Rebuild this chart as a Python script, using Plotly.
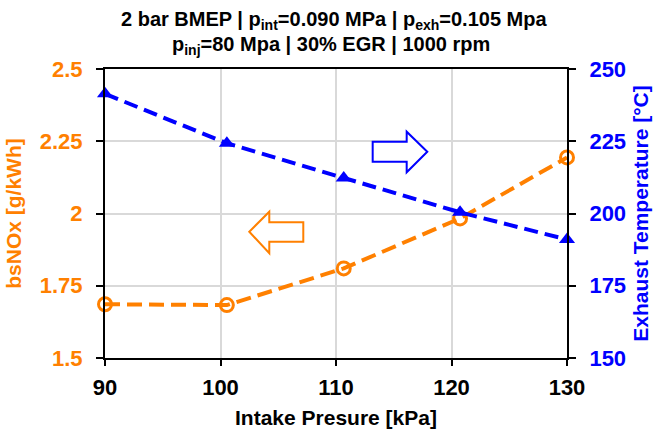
import plotly.graph_objects as go

intake_kpa = [90, 100.55, 110.67, 120.74, 130]
bsnox = [1.686, 1.683, 1.810, 1.983, 2.194]
exh_temp = [241.4, 224.3, 212.3, 200.4, 191.0]

x_ticks = [90, 100, 110, 120, 130]
y_ticks = [1.5, 1.75, 2, 2.25, 2.5]
y_tick_text = ["1.5", "1.75", "2", "2.25", "2.5"]
y2_ticks = [150, 175, 200, 225, 250]

title_line1 = "2 bar BMEP | p<sub>int</sub>=0.090 MPa | p<sub>exh</sub>=0.105 Mpa"
title_line2 = "p<sub>inj</sub>=80 Mpa | 30% EGR | 1000 rpm"

ORANGE = "#FF8000"
BLUE = "#0000FF"
FONT = "Liberation Sans, Arial, sans-serif"

W, H = 658, 429
ML, MR, MT, MB = 105, 91, 69, 71
PW, PH = W - ML - MR, H - MT - MB


def px(xp, yp):
    return (xp - ML) / PW, (H - MB - yp) / PH


def arrow_path(points):
    pts = [px(a, b) for a, b in points]
    return "M " + " L ".join(f"{a:.4f},{b:.4f}" for a, b in pts) + " Z"


right_arrow = [(372.7, 141.7), (406.7, 141.7), (406.7, 131.7), (427.3, 151.7),
               (406.7, 172.3), (406.7, 161.7), (372.7, 161.7)]
left_arrow = [(303.3, 222.3), (269.3, 222.3), (269.3, 211.7), (249.3, 231.7),
              (269.3, 253.3), (269.3, 241.7), (303.3, 241.7)]

fig = go.Figure()
fig.add_trace(go.Scatter(
    x=intake_kpa, y=bsnox, mode="lines+markers", yaxis="y",
    line=dict(color=ORANGE, width=4, dash="15px,7px"),
    marker=dict(symbol="circle-open", size=13, color=ORANGE, line=dict(width=3, color=ORANGE)),
    showlegend=False, cliponaxis=False,
))
fig.add_trace(go.Scatter(
    x=intake_kpa, y=exh_temp, mode="lines+markers", yaxis="y2",
    line=dict(color=BLUE, width=4, dash="14px,7px"),
    marker=dict(symbol="triangle-up", size=14, color=BLUE),
    showlegend=False, cliponaxis=False,
))

title_font = dict(size=20, family=FONT, weight="bold", color="black")

fig.update_layout(
    width=W, height=H,
    margin=dict(l=ML, r=MR, t=MT, b=MB),
    paper_bgcolor="white", plot_bgcolor="white",
    font=dict(family=FONT, color="black"),
    annotations=[
        dict(text=title_line1, xref="paper", yref="paper", x=px(334, 0)[0], y=px(0, 20)[1],
             xanchor="center", yanchor="middle", showarrow=False, font=title_font),
        dict(text=title_line2, xref="paper", yref="paper", x=px(331, 0)[0], y=px(0, 46)[1],
             xanchor="center", yanchor="middle", showarrow=False, font=title_font),
    ],
    xaxis=dict(
        range=[90, 130], tickvals=x_ticks, automargin=False,
        showgrid=True, gridcolor="#D9D9D9", gridwidth=2,
        showline=True, linecolor="black", linewidth=2, mirror=True,
        ticks="outside", ticklen=6, tickwidth=2, tickcolor="black",
        ticklabelstandoff=3,
        tickfont=dict(size=22, family=FONT, weight="bold", color="black"),
        title=dict(text="Intake Presure [kPa]", standoff=16,
                   font=dict(size=21, family=FONT, weight="bold", color="black")),
        zeroline=False,
    ),
    yaxis=dict(
        range=[1.5, 2.5], tickvals=y_ticks, ticktext=y_tick_text, automargin=False,
        showgrid=True, gridcolor="#D9D9D9", gridwidth=2,
        showline=True, linecolor="black", linewidth=2,
        ticks="outside", ticklen=7, tickwidth=2, tickcolor="black",
        ticklabelstandoff=9,
        tickfont=dict(size=22, family=FONT, weight="bold", color=ORANGE),
        title=dict(text="bsNOx [g/kWh]", standoff=12,
                   font=dict(size=21, family=FONT, weight="bold", color=ORANGE)),
        zeroline=False,
    ),
    yaxis2=dict(
        range=[150, 250], tickvals=y2_ticks, overlaying="y", side="right", automargin=False,
        showgrid=False,
        showline=True, linecolor="black", linewidth=2,
        ticks="outside", ticklen=7, tickwidth=2, tickcolor="black",
        ticklabelstandoff=9,
        tickfont=dict(size=22, family=FONT, weight="bold", color=BLUE),
        title=dict(text="Exhaust Temperature [°C]", standoff=8,
                   font=dict(size=21, family=FONT, weight="bold", color=BLUE)),
        zeroline=False,
    ),
    shapes=[
        dict(type="path", xref="paper", yref="paper", path=arrow_path(right_arrow),
             line=dict(color=BLUE, width=2), fillcolor="white"),
        dict(type="path", xref="paper", yref="paper", path=arrow_path(left_arrow),
             line=dict(color=ORANGE, width=2), fillcolor="white"),
    ],
)

fig.write_html("out.html")
